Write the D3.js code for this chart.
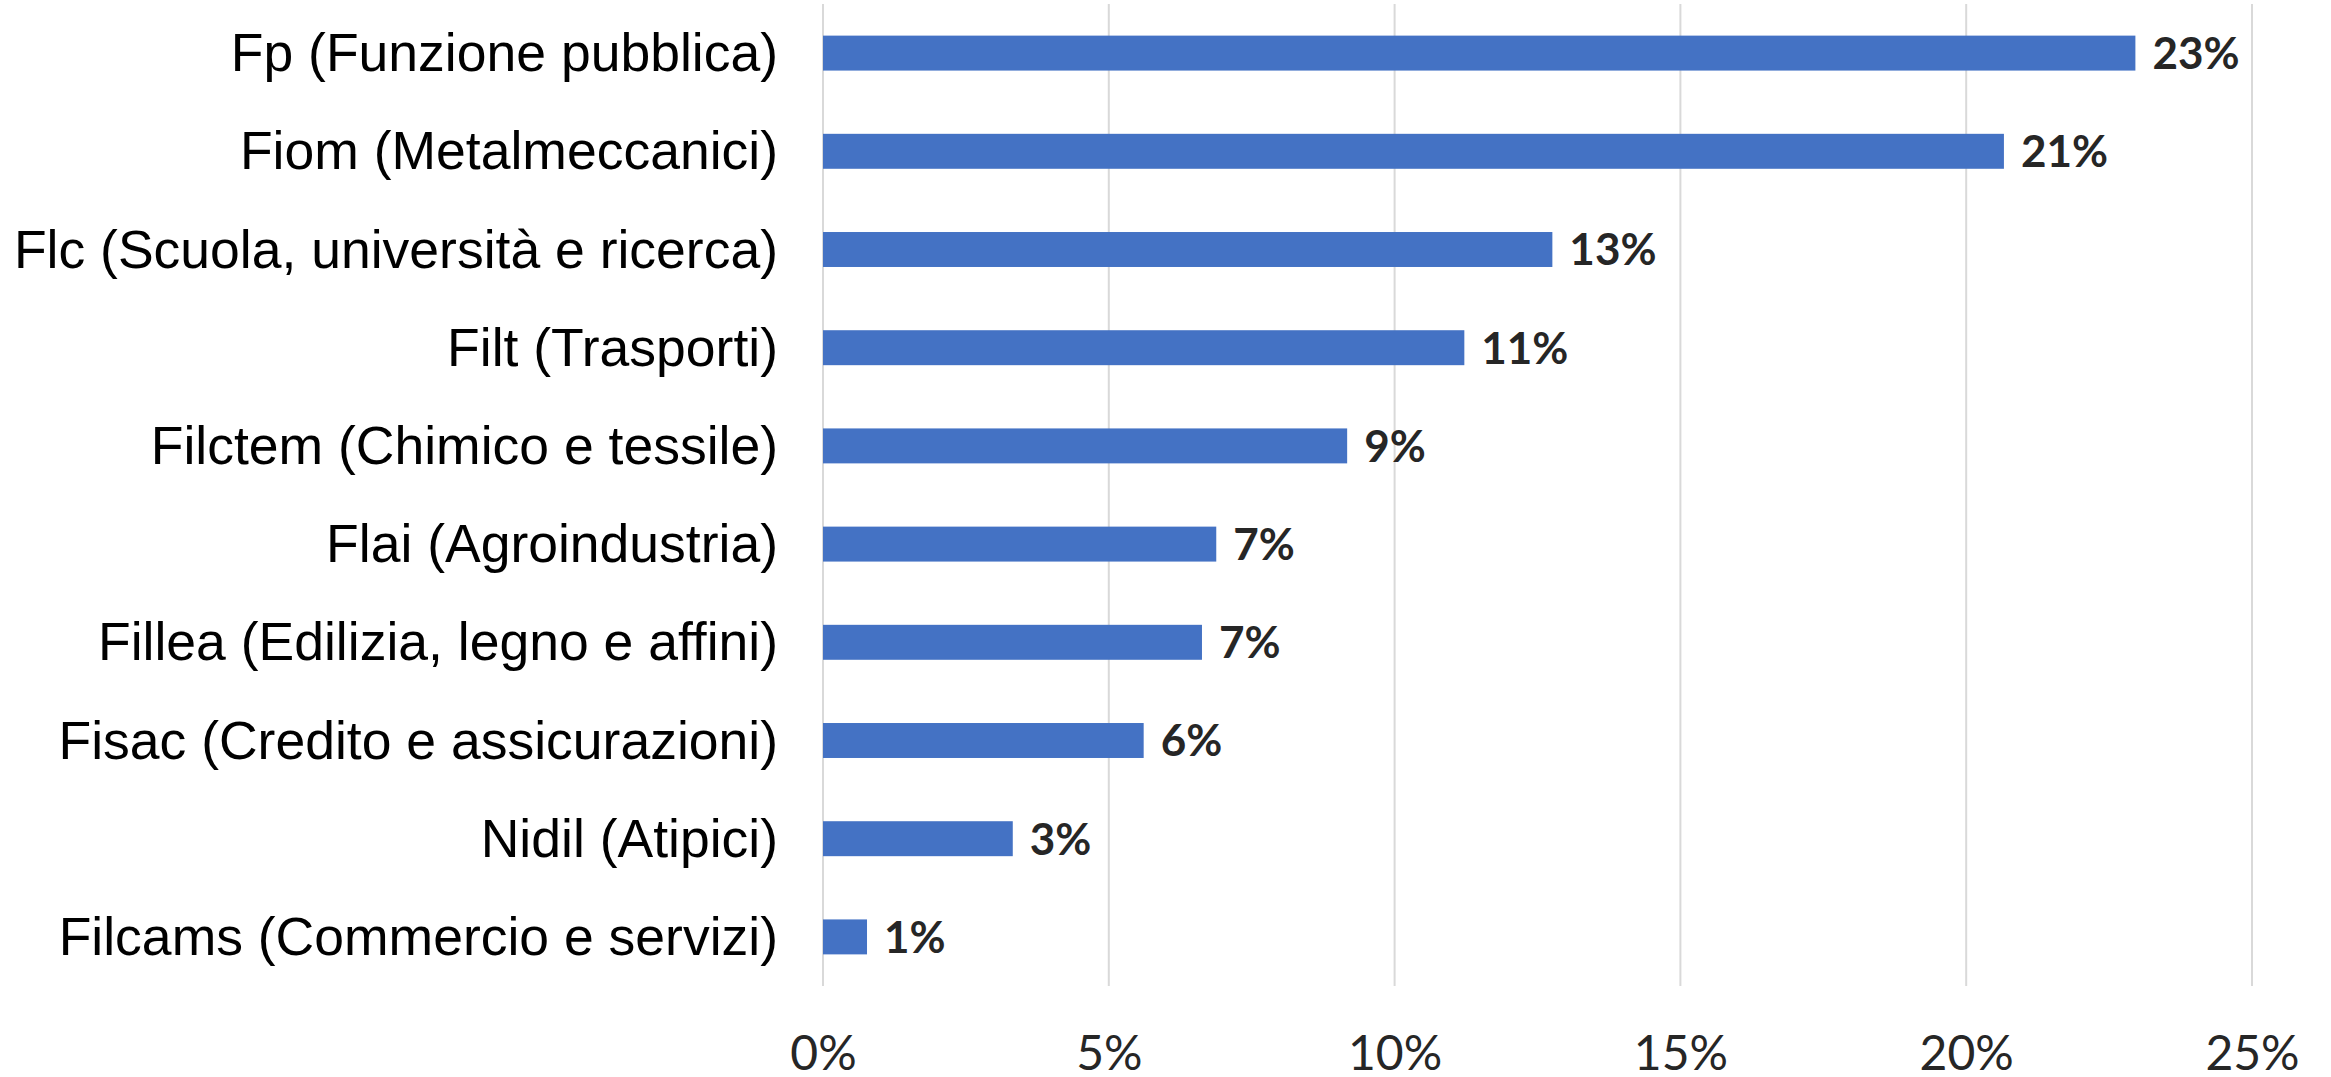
<!DOCTYPE html>
<meta charset="utf-8">
<style>
body { margin: 0; background: #fff; }
.cat text { font-family: "Liberation Sans", Arial, sans-serif; font-size: 53.5px; fill: #000; }
.ticks text { font-family: Lato, "Open Sans", sans-serif; font-size: 48px; fill: #262626; }
.vals text { font-family: Lato, "Open Sans", sans-serif; font-size: 44px; font-weight: bold; fill: #262626; }
</style>
<svg width="2331" height="1077"></svg>
<script src="https://d3js.org/d3.v7.min.js"></script>
<script>

// categories, top to bottom
var categories = [
  "Fp (Funzione pubblica)",
  "Fiom (Metalmeccanici)",
  "Flc (Scuola, università e ricerca)",
  "Filt (Trasporti)",
  "Filctem (Chimico e tessile)",
  "Flai (Agroindustria)",
  "Fillea (Edilizia, legno e affini)",
  "Fisac (Credito e assicurazioni)",
  "Nidil (Atipici)",
  "Filcams (Commercio e servizi)"
];

// share of members
var shares = [0.2296, 0.2066, 0.1276, 0.1122, 0.0917, 0.0688, 0.0663, 0.0561, 0.0332, 0.0077];

var tickValues = [0, 0.05, 0.10, 0.15, 0.20, 0.25];

var svg = d3.select("svg");

// plot box (note: "top" is taken by window.top, so prefix these)
var plotLeft = 823, plotRight = 2252, plotTop = 4, plotBottom = 986;

var x = d3.scaleLinear().domain([0, 0.25]).range([plotLeft, plotRight]);
var y = d3.scaleBand().domain(categories).range([plotTop, plotBottom])
    .paddingInner(0.644).paddingOuter(0.322);

var pct = d3.format(".0%");

// gridlines
svg.append("g")
  .selectAll("line")
  .data(tickValues)
  .enter().append("line")
    .attr("x1", function(d) { return x(d); })
    .attr("x2", function(d) { return x(d); })
    .attr("y1", plotTop)
    .attr("y2", plotBottom)
    .attr("stroke", "#d9d9d9")
    .attr("stroke-width", 2);

// bars
svg.append("g")
  .selectAll("rect")
  .data(shares)
  .enter().append("rect")
    .attr("x", x(0))
    .attr("y", function(d, i) { return y(categories[i]); })
    .attr("width", function(d) { return x(d) - x(0); })
    .attr("height", y.bandwidth())
    .attr("fill", "#4472c4");

// value labels
svg.append("g")
    .attr("class", "vals")
  .selectAll("text")
  .data(shares)
  .enter().append("text")
    .attr("x", function(d) { return x(d) + 17; })
    .attr("y", function(d, i) { return y(categories[i]) + y.bandwidth() / 2; })
    .attr("dy", "0.36em")
    .text(function(d) { return pct(d); });

// category labels
svg.append("g")
    .attr("class", "cat")
  .selectAll("text")
  .data(categories)
  .enter().append("text")
    .attr("x", plotLeft - 45)
    .attr("y", function(d) { return y(d) + y.bandwidth() / 2; })
    .attr("dy", "0.34em")
    .attr("text-anchor", "end")
    .text(function(d) { return d; });

// x axis labels
var xAxis = d3.axisBottom(x)
    .tickValues(tickValues)
    .tickFormat(pct)
    .tickSize(0)
    .tickPadding(50);

var ax = svg.append("g")
    .attr("class", "ticks")
    .attr("transform", "translate(0," + plotBottom + ")")
    .call(xAxis);
ax.select(".domain").remove();
ax.selectAll("text").attr("font-family", null).attr("font-size", null).attr("fill", null);

</script>
